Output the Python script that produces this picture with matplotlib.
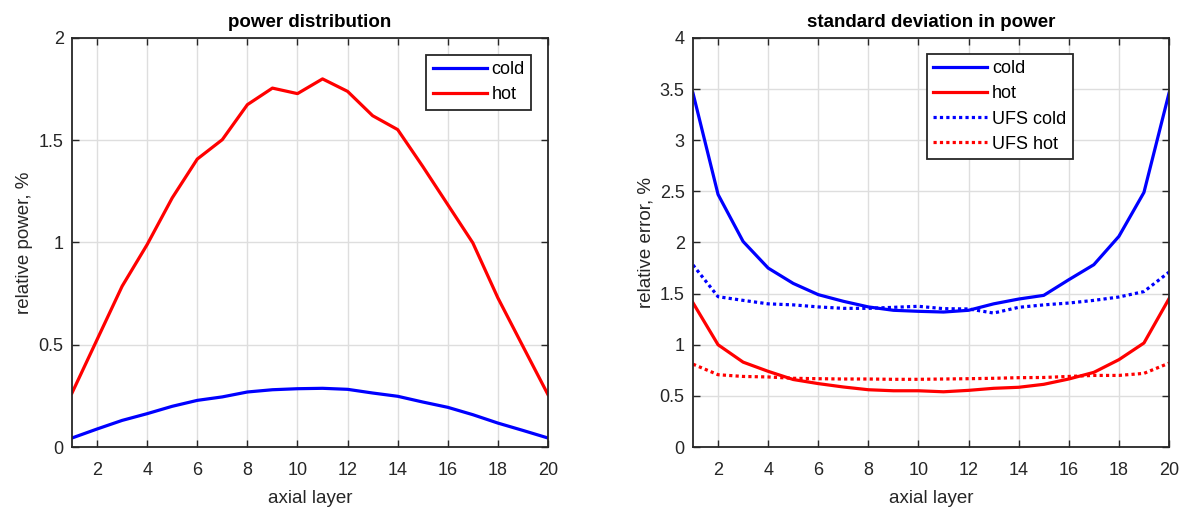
import matplotlib
matplotlib.use("Agg")
import matplotlib.pyplot as plt

layers = list(range(1, 21))

power_cold = [0.044, 0.088, 0.130, 0.163, 0.199, 0.228, 0.245, 0.269, 0.280, 0.285,
              0.287, 0.282, 0.264, 0.248, 0.220, 0.194, 0.158, 0.117, 0.081, 0.044]
power_hot = [0.264, 0.525, 0.786, 0.990, 1.218, 1.408, 1.503, 1.674, 1.755, 1.728,
             1.800, 1.739, 1.620, 1.552, 1.372, 1.185, 0.998, 0.729, 0.492, 0.256]

std_cold = [3.46, 2.47, 2.01, 1.75, 1.60, 1.49, 1.425, 1.37, 1.337, 1.327,
            1.32, 1.337, 1.40, 1.447, 1.483, 1.636, 1.783, 2.06, 2.49, 3.46]
std_hot = [1.41, 1.00, 0.83, 0.74, 0.66, 0.62, 0.587, 0.56, 0.55, 0.55,
           0.54, 0.554, 0.574, 0.584, 0.613, 0.665, 0.73, 0.854, 1.017, 1.45]
ufs_cold = [1.78, 1.47, 1.434, 1.40, 1.39, 1.37, 1.356, 1.356, 1.366, 1.376,
            1.353, 1.35, 1.31, 1.366, 1.39, 1.408, 1.434, 1.467, 1.52, 1.71]
ufs_hot = [0.81, 0.707, 0.69, 0.685, 0.672, 0.668, 0.665, 0.665, 0.662, 0.662,
           0.665, 0.668, 0.672, 0.678, 0.68, 0.69, 0.70, 0.70, 0.72, 0.82]

xticks = [2, 4, 6, 8, 10, 12, 14, 16, 18, 20]
yticks_left = [0, 0.5, 1, 1.5, 2]
yticks_right = [0, 0.5, 1, 1.5, 2, 2.5, 3, 3.5, 4]

plt.rcParams['font.family'] = ["Liberation Sans", "DejaVu Sans"]

dark = (0.15, 0.15, 0.15)
fig = plt.figure(figsize=(11.82, 5.11), dpi=100)
ax1 = fig.add_axes([72/1182, 1-447/511, 476/1182, 409/511])
ax2 = fig.add_axes([693/1182, 1-447/511, 476/1182, 409/511])

def style(ax, yticks, ylim):
    ax.set_xlim(1, 20)
    ax.set_ylim(*ylim)
    ax.set_xticks(xticks)
    ax.set_yticks(yticks)
    ax.set_yticklabels([f"{t:g}" for t in yticks])
    ax.grid(True, color=(0.87, 0.87, 0.87), linewidth=1.0)
    ax.set_axisbelow(True)
    ax.tick_params(direction='in', top=True, right=True, length=5, width=1.0,
                   colors=dark, labelsize=13)
    ax.tick_params(axis='x', pad=11)
    ax.tick_params(axis='y', pad=6)
    for s in ax.spines.values():
        s.set_color(dark)
        s.set_linewidth(1.3)
    ax.set_xlabel("axial layer", fontsize=13.5, color=dark, labelpad=8)

legkw = dict(fontsize=13, handlelength=3.0, handletextpad=0.25, borderpad=0.35,
             labelspacing=0.45, fancybox=False, framealpha=1, edgecolor=dark,
             borderaxespad=0)

ax1.plot(layers, power_cold, color=(0, 0, 1), lw=2.3, label="cold")
ax1.plot(layers, power_hot, color=(1, 0, 0), lw=2.3, label="hot")
style(ax1, yticks_left, (0, 2))
ax1.set_ylabel("relative power, %", fontsize=13.5, color=dark)
ax1.set_title("power distribution", fontsize=13.5, fontweight='bold', pad=8)
leg1 = ax1.legend(loc='upper right', bbox_to_anchor=(459/476, 1-17/409), **legkw)
leg1.get_frame().set_linewidth(1.3)

ax2.plot(layers, std_cold, color=(0, 0, 1), lw=2.3, label="cold")
ax2.plot(layers, std_hot, color=(1, 0, 0), lw=2.3, label="hot")
ax2.plot(layers, ufs_cold, color=(0, 0, 1), lw=2.3, ls=(0, (1, 1)), label="UFS cold")
ax2.plot(layers, ufs_hot, color=(1, 0, 0), lw=2.3, ls=(0, (1, 1)), label="UFS hot")
style(ax2, yticks_right, (0, 4))
ax2.set_ylabel("relative error, %", fontsize=13.5, color=dark)
ax2.set_title("standard deviation in power", fontsize=13.5, fontweight='bold', pad=8)
leg2 = ax2.legend(loc='upper left', bbox_to_anchor=(234/476, 1-16/409), **legkw)
leg2.get_frame().set_linewidth(1.3)

fig.savefig("out.png", dpi=100)
